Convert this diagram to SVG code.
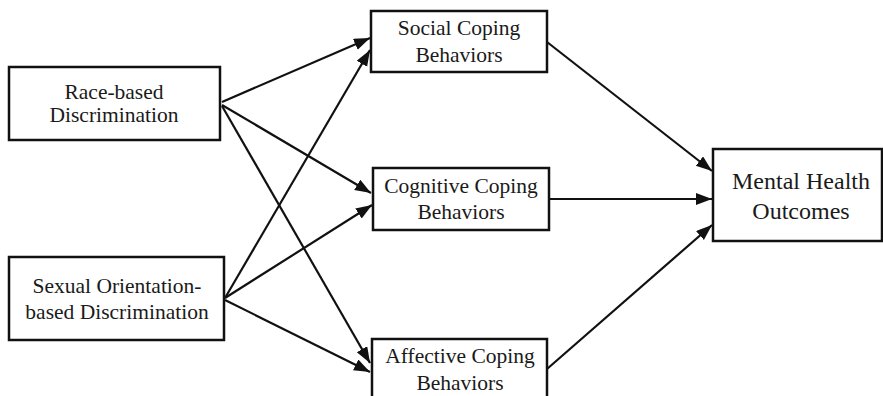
<svg xmlns="http://www.w3.org/2000/svg" width="883" height="396" viewBox="0 0 883 396">
<style>
.box{fill:#fff;stroke:#111;stroke-width:2.5}
.lbl{font-family:"Liberation Serif","Times New Roman",serif;font-size:21.5px;fill:#1a1a1a;text-anchor:middle}
.big{font-size:24px}
.edge{stroke:#111;stroke-width:2.2;fill:none;marker-end:url(#ah)}
</style>
<defs>
<marker id="ah" markerUnits="userSpaceOnUse" markerWidth="17" markerHeight="13" refX="16" refY="6" orient="auto">
<path d="M0,0 L16,6 L0,12 z" fill="#111"/>
</marker>
</defs>
<rect width="883" height="396" fill="#fff"/>
<g id="edges">
<line class="edge" x1="222" y1="102" x2="370" y2="38"/>
<line class="edge" x1="225" y1="298" x2="370" y2="50"/>
<line class="edge" x1="222" y1="105" x2="371" y2="193"/>
<line class="edge" x1="222" y1="106" x2="370" y2="363"/>
<line class="edge" x1="225" y1="298" x2="372" y2="205"/>
<line class="edge" x1="225" y1="300" x2="370" y2="372"/>
<line class="edge" x1="547" y1="42" x2="712" y2="171"/>
<line class="edge" x1="549" y1="199" x2="712" y2="199"/>
<line class="edge" x1="547" y1="369" x2="712" y2="225"/>
</g>
<g id="race">
<rect class="box" x="9" y="67" width="211" height="73"/>
<text class="lbl" x="114" y="99">Race-based</text>
<text class="lbl" x="114" y="122">Discrimination</text>
</g>
<g id="sexual">
<rect class="box" x="9" y="257" width="215" height="83"/>
<text class="lbl" x="117" y="293">Sexual Orientation-</text>
<text class="lbl" x="117" y="319">based Discrimination</text>
</g>
<g id="social">
<rect class="box" x="371" y="11" width="176" height="61"/>
<text class="lbl" x="459" y="35">Social Coping</text>
<text class="lbl" x="459" y="62">Behaviors</text>
</g>
<g id="cognitive">
<rect class="box" x="373" y="168" width="176" height="62"/>
<text class="lbl" x="461" y="193">Cognitive Coping</text>
<text class="lbl" x="461" y="219">Behaviors</text>
</g>
<g id="affective">
<rect class="box" x="372" y="339" width="175" height="70"/>
<text class="lbl" x="460" y="363">Affective Coping</text>
<text class="lbl" x="460" y="390">Behaviors</text>
</g>
<g id="mental">
<rect class="box" x="713" y="149" width="169" height="92"/>
<text class="lbl big" x="801" y="189">Mental Health</text>
<text class="lbl big" x="801" y="219">Outcomes</text>
</g>
</svg>
